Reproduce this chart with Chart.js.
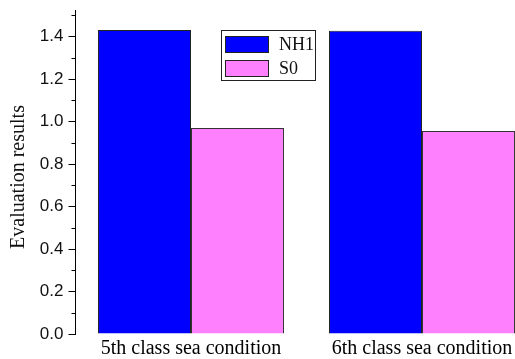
<!DOCTYPE html>
<html>
<head>
<meta charset="utf-8">
<script src="https://cdn.jsdelivr.net/npm/chart.js@4"></script>
<style>
  body { margin: 0; overflow: hidden; background: #fff; }
  #wrap { width: 545px; height: 359px; }
</style>
</head>
<body>
<div id="wrap"><canvas id="bar-chart" width="545" height="359"></canvas></div>
<script>
const categories = ['5th class sea condition', '6th class sea condition'];
const seriesNames = ['NH1', 'S0'];
const nh1Values = [1.431, 1.427];
const s0Values = [0.970, 0.956];
const yTicks = [0, 0.1, 0.2, 0.3, 0.4, 0.5, 0.6, 0.7, 0.8, 0.9, 1.0, 1.1, 1.2, 1.3, 1.4, 1.5];
const yLabels = ['0.0', '', '0.2', '', '0.4', '', '0.6', '', '0.8', '', '1.0', '', '1.2', '', '1.4', ''];
const yTitle = 'Evaluation results';

var target = document.getElementById('bar-chart');

// small ticks between the labelled ones, y title, legend box inside the plot
const extras = {
    id: 'extras',
    afterDraw(chart) {
        const ctx = chart.ctx;
        const y = chart.scales.y;
        ctx.save();
        ctx.strokeStyle = '#000';
        ctx.lineWidth = 1;
        yTicks.forEach(function (v, i) {
            if (yLabels[i] !== '') return;
            const py = Math.round(y.getPixelForValue(v)) + 0.5;
            ctx.beginPath();
            ctx.moveTo(y.right - 4, py);
            ctx.lineTo(y.right, py);
            ctx.stroke();
        });

        // axis title
        ctx.save();
        ctx.translate(19, 177);
        ctx.rotate(-Math.PI / 2);
        ctx.fillStyle = '#111';
        ctx.font = '20px "Liberation Serif", serif';
        ctx.textAlign = 'center';
        ctx.textBaseline = 'middle';
        ctx.fillText(yTitle, 0, 0);
        ctx.restore();

        // legend
        ctx.strokeStyle = '#222';
        ctx.strokeRect(221.5, 30.5, 94, 50);
        chart.data.datasets.forEach(function (ds, i) {
            const top = 36 + i * 24;
            ctx.fillStyle = ds.backgroundColor;
            ctx.fillRect(225, top, 44, 16);
            ctx.strokeStyle = '#222';
            ctx.strokeRect(225.5, top + 0.5, 43, 16);
            ctx.fillStyle = '#111';
            ctx.font = '18px "Liberation Serif", serif';
            ctx.textBaseline = 'middle';
            ctx.textAlign = 'left';
            ctx.fillText(ds.label, 279, top + 9);
        });
        ctx.restore();
    }
};

const data = {
    labels: categories,
    datasets: [
        {
            label: seriesNames[0],
            backgroundColor: '#0000ff',
            borderColor: '#222',
            borderWidth: 1,
            data: nh1Values
        },
        {
            label: seriesNames[1],
            backgroundColor: '#ff80ff',
            borderColor: '#333',
            borderWidth: 1,
            data: s0Values
        }
    ]
};

const config = {
    type: 'bar',
    data: data,
    options: {
        responsive: false,
        animation: false,
        categoryPercentage: 0.805,
        barPercentage: 1.0,
        layout: { padding: { top: 10, right: 7.5, bottom: 0, left: 0 } },
        plugins: {
            legend: { display: false },
            tooltip: { enabled: false }
        },
        scales: {
            x: {
                grid: { display: false, drawTicks: false },
                border: { display: false },
                afterFit: function (scale) { scale.height = 25; },
                ticks: {
                    color: '#000',
                    padding: 3,
                    font: { family: '"Liberation Serif", serif', size: 20 }
                }
            },
            y: {
                min: 0,
                max: 1.525,
                afterBuildTicks: function (scale) {
                    scale.ticks = yTicks.map(function (v) { return { value: v }; });
                },
                afterFit: function (scale) {
                    scale.width = 75.5;
                    scale.paddingTop = 0;
                    scale.paddingBottom = 0;
                },
                border: { display: true, color: '#000', width: 1 },
                grid: {
                    drawOnChartArea: false,
                    tickLength: 7,
                    tickColor: function (c) {
                        return yLabels[c.index] === '' ? 'rgba(0,0,0,0)' : '#000';
                    }
                },
                ticks: {
                    color: '#111',
                    padding: 5,
                    autoSkip: false,
                    font: { family: '"Liberation Sans", Arial, sans-serif', size: 17 },
                    callback: function (v, i) { return yLabels[i]; }
                }
            }
        }
    },
    plugins: [extras]
};

var myChart = new Chart(target, config);
</script>
</body>
</html>
